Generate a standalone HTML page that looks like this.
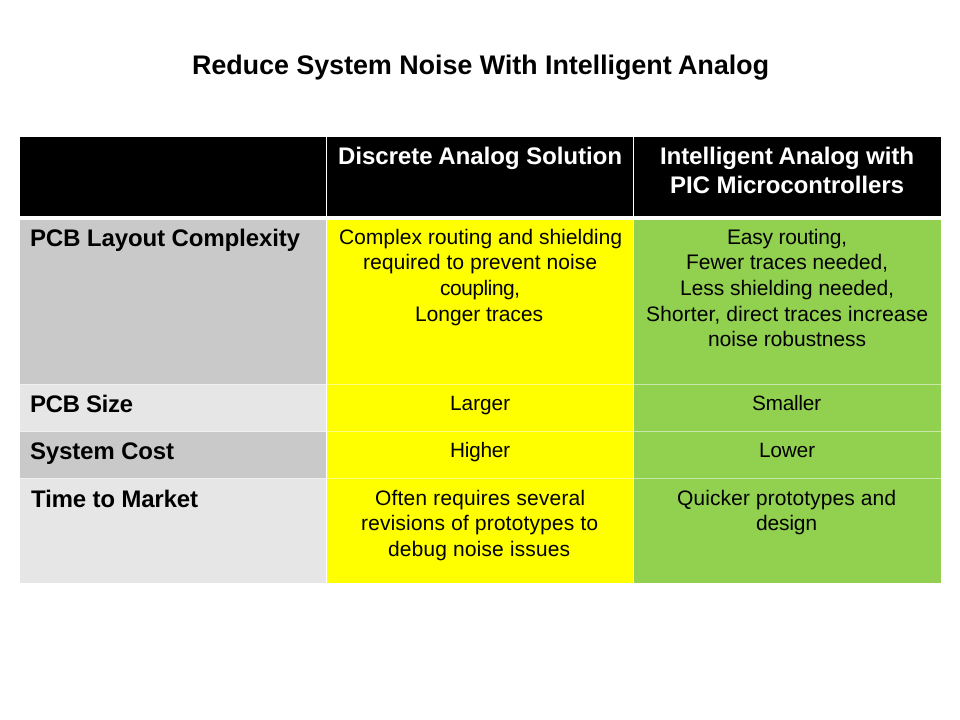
<!DOCTYPE html>
<html><head><meta charset="utf-8"><title>Reduce System Noise With Intelligent Analog</title>
<style>
html,body{margin:0;padding:0;background:#fff}
svg{display:block}
text{font-family:"Liberation Sans",Arial,sans-serif;fill:#000}
.b{font-weight:bold}
.h{font-size:24px;font-weight:bold;fill:#fff}
.r{font-size:24px;font-weight:bold}
.t{font-size:21px}
.s{font-size:20.8px}
</style></head><body>
<svg width="960" height="720" viewBox="0 0 960 720" xmlns="http://www.w3.org/2000/svg" text-rendering="geometricPrecision">
<rect width="960" height="720" fill="#fff"/>
<rect x="20" y="137" width="306" height="79" fill="#000"/>
<rect x="327" y="137" width="306" height="79" fill="#000"/>
<rect x="634" y="137" width="307" height="79" fill="#000"/>
<rect x="20" y="220" width="306" height="164" fill="#c9c9c9"/>
<rect x="20" y="385" width="306" height="46" fill="#e6e6e6"/>
<rect x="20" y="432" width="306" height="46" fill="#c9c9c9"/>
<rect x="20" y="479" width="306" height="104" fill="#e6e6e6"/>
<rect x="327" y="220" width="306" height="164" fill="#ffff00"/>
<rect x="327" y="385" width="306" height="46" fill="#ffff00"/>
<rect x="327" y="432" width="306" height="46" fill="#ffff00"/>
<rect x="327" y="479" width="306" height="104" fill="#ffff00"/>
<rect x="634" y="220" width="307" height="164" fill="#92d050"/>
<rect x="634" y="385" width="307" height="46" fill="#92d050"/>
<rect x="634" y="432" width="307" height="46" fill="#92d050"/>
<rect x="634" y="479" width="307" height="104" fill="#92d050"/>
<rect x="327" y="384" width="306" height="1" fill="#ffff80"/>
<rect x="327" y="431" width="306" height="1" fill="#ffff80"/>
<rect x="327" y="478" width="306" height="1" fill="#ffff80"/>
<rect x="634" y="384" width="307" height="1" fill="#c8e8a8"/>
<rect x="634" y="431" width="307" height="1" fill="#c8e8a8"/>
<rect x="634" y="478" width="307" height="1" fill="#c8e8a8"/>
<rect x="20" y="384" width="306" height="1" fill="#f0f0f0"/>
<rect x="20" y="431" width="306" height="1" fill="#f0f0f0"/>
<rect x="20" y="478" width="306" height="1" fill="#f0f0f0"/>

<text class="b" x="192" y="74" font-size="26.9" textLength="577">Reduce System Noise With Intelligent Analog</text>

<text class="h" x="338" y="164" textLength="284">Discrete Analog Solution</text>
<text class="h" x="660" y="164" textLength="254">Intelligent Analog with</text>
<text class="h" x="670" y="193" textLength="234">PIC Microcontrollers</text>

<text class="r" x="30" y="246" textLength="270">PCB Layout Complexity</text>
<text class="r" x="30" y="412" textLength="103">PCB Size</text>
<text class="r" x="30" y="459" textLength="144">System Cost</text>
<text class="r" x="31" y="507" textLength="167">Time to Market</text>

<text class="t" x="339" y="244" textLength="283">Complex routing and shielding</text>
<text class="t" x="363" y="269" textLength="234">required to prevent noise</text>
<text class="t" x="440" y="295" textLength="80">coupling,</text>
<text class="t" x="415" y="321" textLength="128">Longer traces</text>

<text class="t" x="727" y="244" textLength="120">Easy routing,</text>
<text class="t" x="686" y="269" textLength="202">Fewer traces needed,</text>
<text class="t" x="680" y="295" textLength="214">Less shielding needed,</text>
<text class="t" x="646" y="321" textLength="282">Shorter, direct traces increase</text>
<text class="t" x="708" y="346" textLength="158">noise robustness</text>

<text class="s" x="450" y="410" textLength="60">Larger</text>
<text class="s" x="752" y="410" textLength="69">Smaller</text>
<text class="s" x="450" y="457" textLength="60">Higher</text>
<text class="s" x="759" y="457" textLength="56">Lower</text>

<text class="t" x="375" y="505" textLength="210">Often requires several</text>
<text class="t" x="361" y="530" textLength="237">revisions of prototypes to</text>
<text class="t" x="388" y="556" textLength="182">debug noise issues</text>
<text class="t" x="677" y="505" textLength="219">Quicker prototypes and</text>
<text class="t" x="756" y="530" textLength="61">design</text>
</svg>
</body></html>
